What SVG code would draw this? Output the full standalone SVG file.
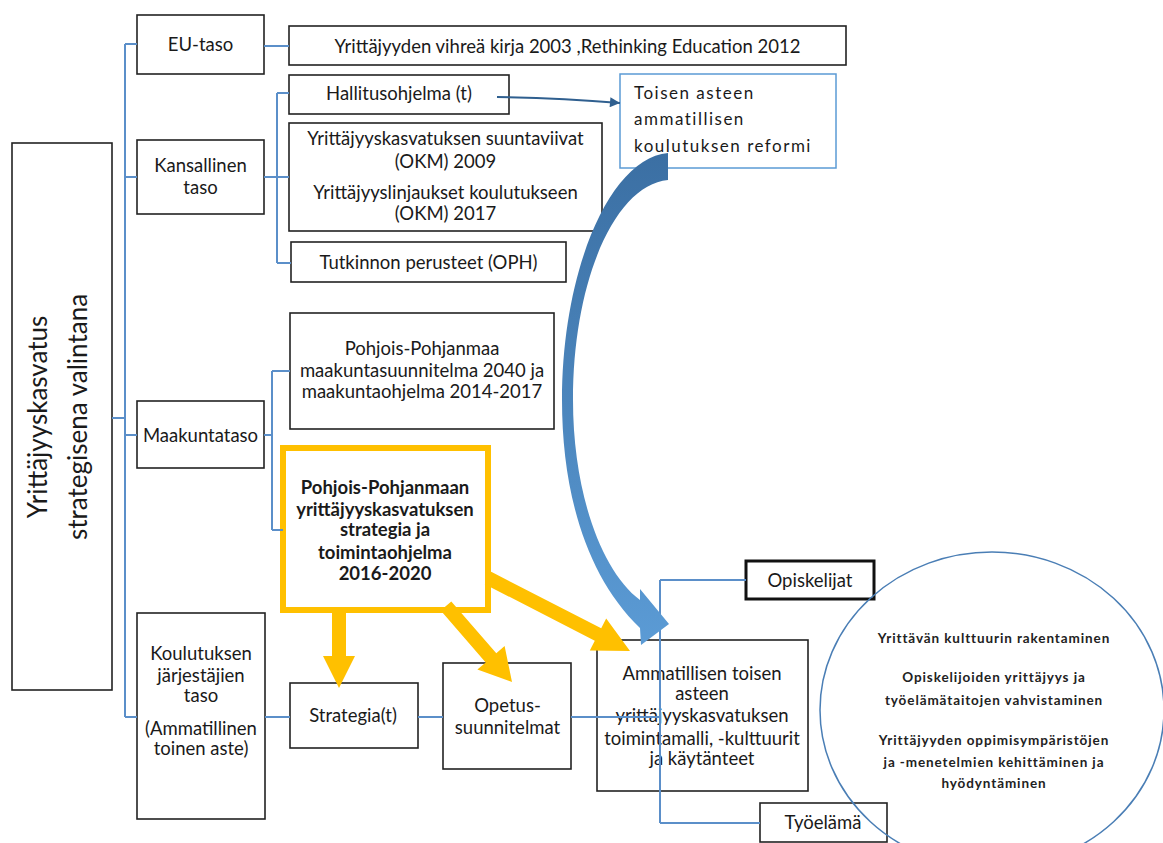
<svg xmlns="http://www.w3.org/2000/svg" width="1163" height="843" viewBox="0 0 1163 843">
<defs>
<style>
.box{fill:#fff;stroke:#222;stroke-width:1.6}
.t{font-family:Lato,"Liberation Sans",sans-serif;font-size:18.5px;fill:#1a1a1a;text-anchor:middle}
.tb{font-family:Lato,"Liberation Sans",sans-serif;font-size:18.5px;font-weight:bold;fill:#1a1a1a;text-anchor:middle}
.con{fill:none;stroke:#5B8FC9;stroke-width:2}
.yl{fill:#FFC000}
.eb{font-family:Lato,"Liberation Sans",sans-serif;font-weight:bold;font-size:13.5px;letter-spacing:0.9px;text-anchor:middle;fill:#222}
</style>
<linearGradient id="bg" x1="0" y1="0" x2="0" y2="1">
<stop offset="0" stop-color="#3B6FA3"/>
<stop offset="1" stop-color="#5B9BD5"/>
</linearGradient>
<marker id="ah" viewBox="0 0 10 10" refX="10" refY="5" markerWidth="12" markerHeight="10" markerUnits="userSpaceOnUse" orient="auto">
<path d="M0,0 L10,5 L0,10 z" fill="#2F5F8F"/>
</marker>
</defs>
<rect width="1163" height="843" fill="#fff"/>

<g id="n-main">
<rect class="box" x="12" y="143" width="100" height="547"/>
<text class="t" style="font-size:26px" transform="translate(47,417) rotate(-90)">Yrittäjyyskasvatus</text>
<text class="t" style="font-size:26px" transform="translate(87,417) rotate(-90)">strategisena valintana</text>
</g>
<g id="n-eu">
<rect class="box" x="137" y="15" width="127" height="59"/>
<text class="t" x="200.5" y="51">EU-taso</text>
</g>
<g id="n-kans">
<rect class="box" x="137" y="140" width="127" height="74"/>
<text class="t" x="200.5" y="172">Kansallinen</text>
<text class="t" x="200.5" y="194">taso</text>
</g>
<g id="n-maak">
<rect class="box" x="137" y="401" width="127" height="67"/>
<text class="t" x="200.5" y="442">Maakuntataso</text>
</g>
<g id="n-koul">
<rect class="box" x="137" y="613" width="128" height="206"/>
<text class="t" x="201" y="660">Koulutuksen</text>
<text class="t" x="201" y="682">järjestäjien</text>
<text class="t" x="201" y="702">taso</text>
<text class="t" x="201" y="735">(Ammatillinen</text>
<text class="t" x="201" y="755">toinen aste)</text>
</g>
<g id="n-paper">
<rect class="box" x="289" y="26" width="557" height="39"/>
<text class="t" x="567.5" y="53">Yrittäjyyden vihreä kirja 2003 ,Rethinking Education 2012</text>
</g>
<g id="n-hall">
<rect class="box" x="289" y="75" width="220" height="39"/>
<text class="t" x="399" y="100">Hallitusohjelma (t)</text>
</g>
<g id="n-okm">
<rect class="box" x="289" y="123" width="313" height="108"/>
<text class="t" x="445.5" y="145">Yrittäjyyskasvatuksen suuntaviivat</text>
<text class="t" x="445.5" y="168">(OKM) 2009</text>
<text class="t" x="445.5" y="199">Yrittäjyyslinjaukset koulutukseen</text>
<text class="t" x="445.5" y="220">(OKM) 2017</text>
</g>
<g id="n-tutk">
<rect class="box" x="291" y="242" width="275" height="40"/>
<text class="t" x="428.5" y="269">Tutkinnon perusteet (OPH)</text>
</g>
<g id="n-pp">
<rect class="box" x="290" y="313" width="264" height="116"/>
<text class="t" x="422" y="355">Pohjois-Pohjanmaa</text>
<text class="t" x="422" y="377">maakuntasuunnitelma 2040 ja</text>
<text class="t" x="422" y="398">maakuntaohjelma 2014-2017</text>
</g>
<g id="n-strat-pp">
<rect x="283" y="448" width="205" height="162" fill="#fff" stroke="#FFC000" stroke-width="6"/>
<text class="tb" x="385" y="494">Pohjois-Pohjanmaan</text>
<text class="tb" x="385" y="516">yrittäjyyskasvatuksen</text>
<text class="tb" x="385" y="536">strategia ja</text>
<text class="tb" x="385" y="559">toimintaohjelma</text>
<text class="tb" x="385" y="580">2016-2020</text>
</g>
<g id="n-reform">
<rect x="620" y="74" width="216" height="94" fill="#fff" stroke="#5B9BD5" stroke-width="1.5"/>
<text class="t" x="634" y="99" style="text-anchor:start;letter-spacing:1.5px;font-size:17px">Toisen asteen</text>
<text class="t" x="634" y="125" style="text-anchor:start;letter-spacing:1.5px;font-size:17px">ammatillisen</text>
<text class="t" x="634" y="152" style="text-anchor:start;letter-spacing:1.5px;font-size:17px">koulutuksen reformi</text>
</g>
<g id="n-strategia">
<rect class="box" x="290" y="683" width="128" height="65"/>
<text class="t" x="353" y="722">Strategia(t)</text>
</g>
<g id="n-ops">
<rect class="box" x="443" y="663" width="128" height="106"/>
<text class="t" x="507.5" y="712">Opetus-</text>
<text class="t" x="507.5" y="734">suunnitelmat</text>
</g>
<g id="n-amm">
<rect class="box" x="597" y="640" width="211" height="151"/>
<text class="t" x="702" y="680">Ammatillisen toisen</text>
<text class="t" x="702" y="700">asteen</text>
<text class="t" x="702" y="722">yrittäjyyskasvatuksen</text>
<text class="t" x="702" y="745">toimintamalli, -kulttuurit</text>
<text class="t" x="702" y="765">ja käytänteet</text>
</g>
<g id="n-opisk">
<rect x="746" y="561" width="128" height="38" fill="#fff" stroke="#111" stroke-width="3"/>
<text class="t" x="810" y="587">Opiskelijat</text>
</g>
<g id="n-tyo">
<rect class="box" x="760" y="803" width="127" height="39"/>
<text class="t" x="823" y="829">Työelämä</text>
</g>
<g id="n-ellipse">
<ellipse cx="992" cy="710" rx="172" ry="158" fill="none" stroke="#4A7EB5" stroke-width="1.5"/>
<text class="eb" x="994" y="643">Yrittävän kulttuurin rakentaminen</text>
<text class="eb" x="994" y="682">Opiskelijoiden yrittäjyys ja</text>
<text class="eb" x="994" y="705">työelämätaitojen vahvistaminen</text>
<text class="eb" x="994" y="745">Yrittäjyyden oppimisympäristöjen</text>
<text class="eb" x="994" y="767">ja -menetelmien kehittäminen ja</text>
<text class="eb" x="994" y="788">hyödyntäminen</text>
</g>

<g id="connectors">
<path class="con" d="M112,418 H125 M125,44 V717 M125,44 H137 M125,177 H137 M125,435 H137 M125,717 H137"/>
<path class="con" d="M264,46 H289"/>
<path class="con" d="M264,177 H277 M277,93 V263 M277,93 H289 M277,177 H289 M277,263 H291"/>
<path class="con" d="M264,435 H272 M272,371 V530 M272,371 H290 M272,530 H283"/>
<path class="con" d="M265,717 H290 M418,717 H443 M571,717 H660"/>
<path class="con" d="M660,580 V823 M660,580 H746 M660,823 H760"/>
<path d="M497,97 Q560,98 620,103" fill="none" stroke="#2F5F8F" stroke-width="2" marker-end="url(#ah)"/>
<polygon class="yl" points="332,610 332,656 323,656 339,688 355,656 346,656 346,610"/>
<polygon class="yl" points="440.7,610.6 485.7,662.4 477.4,669.6 512,682 504.6,646 496.3,653.2 451.3,601.4"/>
<polygon class="yl" points="484.8,584.2 594.8,640.7 589.8,650.5 630,651 606.2,618.5 601.2,628.3 491.2,571.8"/>
<path fill="url(#bg)" d="M668,153 C610,158 562,270 562,400 C562,490 585,575 640,628 L641,645 L669,624 L640,589 L640,600 C600,570 573,490 573,400 C573,280 615,185 668,180 Z"/>
</g>
</svg>
